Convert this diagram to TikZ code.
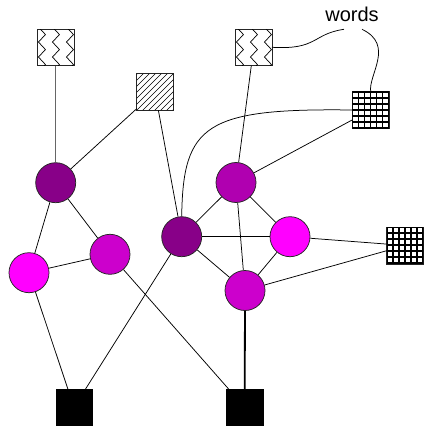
\documentclass[tikz,border=0pt]{standalone}
\usepackage{fontspec}
\setmainfont{Liberation Sans}
\definecolor{cdark}{RGB}{136,0,136}
\definecolor{cmid}{RGB}{176,0,176}
\definecolor{cpink}{RGB}{204,0,204}
\definecolor{cmag}{RGB}{255,0,255}
\newcommand\zigfill[1]{%
  \begin{scope}[shift={(#1.north west)}]
    \clip (0,0) rectangle (36.5,36.5);
    \foreach \dx in {1,15,29}{
      \draw[line width=0.7pt] (\dx,-2) -- (\dx+7,5.5) -- (\dx,13) -- (\dx+7,20.5) -- (\dx,28) -- (\dx+7,35.5) -- (\dx,43);
    }
  \end{scope}}
\newcommand\hatchfill[1]{%
  \begin{scope}[shift={(#1.north west)}]
    \clip (0,0) rectangle (36.5,36.5);
    \foreach \k in {-36,-30,...,36}{
      \draw[line width=0.5pt] (\k,36.5) -- (\k+36.5,0);
    }
  \end{scope}}
\newcommand\gridfill[1]{%
  \begin{scope}[shift={(#1.north west)}]
    \clip (0,0) rectangle (36.5,36.5);
    \foreach \k in {0,6,...,36}{
      \draw[line width=1.7pt] (\k,0) -- (\k,36.5);
      \draw[line width=1.7pt] (0,\k) -- (36.5,\k);
    }
  \end{scope}}
\begin{document}
\begin{tikzpicture}[x=1pt,y=-1pt,
  circ/.style={circle, draw=black!85, line width=0.75pt, minimum size=40pt, inner sep=0pt},
  boxnode/.style={rectangle, draw=black!85, line width=0.9pt, minimum size=36.5pt, inner sep=0pt, outer sep=0pt, fill=white},
  blk/.style={rectangle, draw=black, fill=black, minimum size=36.5pt, inner sep=0pt, outer sep=0pt},
  edge/.style={line width=0.75pt},
  lbl/.style={font=\fontsize{20}{22}\selectfont, inner sep=0pt}
]
\useasboundingbox (0,0) rectangle (424,430);

% nodes
\node[boxnode] (z1) at (55.7,47.3) {};
\node[boxnode] (z2) at (253.7,47.3) {};
\node[boxnode] (h) at (155,92) {};
\node[boxnode, line width=1.5pt] (g1) at (370.7,110) {};
\node[boxnode, line width=1.5pt] (g2) at (405.2,245.5) {};
\node[blk] (s1) at (74,407.3) {};
\node[blk] (s2) at (244.7,407.3) {};

\node[circ, fill=cdark] (A) at (55.7,182.7) {};
\node[circ, fill=cmid] (B) at (236,182.5) {};
\node[circ, fill=cmag] (C) at (29,272.7) {};
\node[circ, fill=cpink] (D) at (110,254.3) {};
\node[circ, fill=cdark] (E) at (181.7,236.7) {};
\node[circ, fill=cmag] (F) at (290,236.7) {};
\node[circ, fill=cpink] (G) at (245,290.5) {};

\node[lbl] (w) at (352,14) {words};
\coordinate (w1) at (344,29.3);
\coordinate (w2) at (362,29.3);

\zigfill{z1}
\zigfill{z2}
\hatchfill{h}
\gridfill{g1}
\gridfill{g2}

% edges
\draw[line width=1.2pt, black!60] (z1) -- (A);
\draw[edge] (h) -- (A);
\draw[edge] (h) -- (E);
\draw[edge] (A) -- (C);
\draw[edge] (A) -- (D);
\draw[edge] (C) -- (D);
\draw[edge] (C) -- (s1);
\draw[edge] (E) -- (s1);
\draw[edge] (D) -- (s2);
\draw[edge] (E) -- (B);
\draw[edge] (E) -- (F);
\draw[edge] (E) -- (G);
\draw[edge] (B) -- (F);
\draw[edge] (B) -- (G);
\draw[edge] (F) -- (G);
\draw[edge] (z2) -- (B);
\draw[edge] (B) -- (g1);
\draw[edge] (F) -- (g2);
\draw[edge] (G) -- (g2);
\draw[line width=1.8pt] (G) -- (s2);
\draw[edge] (E.north) .. controls (183,125) and (205,108) .. (g1.west);
\draw[edge] (z2.east) .. controls (318,50) and (312,34) .. (w1);
\draw[edge] (w2) .. controls (395,45) and (368,75) .. (g1.north);
\end{tikzpicture}
\end{document}
